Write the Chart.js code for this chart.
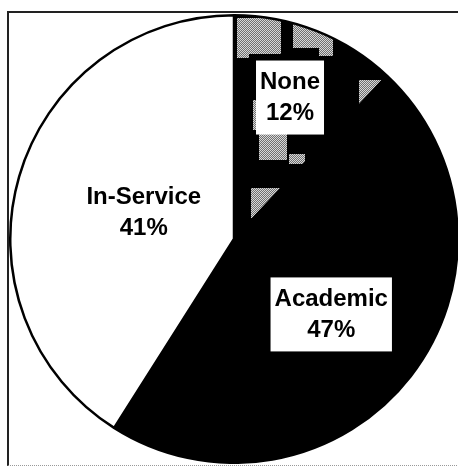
<!DOCTYPE html>
<html>
<head>
<meta charset="utf-8">
<script src="https://cdn.jsdelivr.net/npm/chart.js@4/dist/chart.umd.min.js"></script>
<style>
  html, body { margin: 0; padding: 0; background: #fff; }
  body { width: 458px; height: 467px; position: relative; overflow: hidden; }
  .frame {
    position: absolute; left: 7px; top: 11px; width: 470px; height: 452px;
    border-top: 2px solid #222; border-left: 2px solid #222;
    border-bottom: 1px dotted #999;
  }
  .pie-wrap { position: absolute; left: 9px; top: 14px; width: 450px; height: 450px; }
</style>
</head>
<body>
<div class="frame"></div>
<div class="pie-wrap"><canvas id="pie"></canvas></div>
<script>
const categories = ['None', 'Academic', 'In-Service'];
const shares = [12, 47, 41];
const percentLabels = ['12%', '47%', '41%'];

// how far out from the centre each label sits (fraction of the radius)
const labelRadius = [0.68, 0.55, 0.42];

// scanned-look dither for the "None" slice: black with blotchy grey patches
function makeNonePattern() {
  const size = 240;
  const tile = document.createElement('canvas');
  tile.width = size;
  tile.height = size;
  const ctx = tile.getContext('2d');
  ctx.fillStyle = '#000';
  ctx.fillRect(0, 0, size, size);
  const patches = [
    [228, 4, 12, 40], [0, 4, 32, 36], [44, 6, 40, 28], [110, 66, 34, 24],
    [4, 86, 14, 30], [10, 120, 28, 26], [2, 174, 30, 30], [58, 172, 12, 14],
    [40, 140, 16, 10], [70, 30, 14, 12], [120, 150, 30, 20], [180, 60, 24, 20],
  ];
  patches.forEach(([px, py, pw, ph]) => {
    for (let y = py; y < py + ph; y++) {
      for (let x = px; x < px + pw; x++) {
        ctx.fillStyle = (x + y) % 2 ? '#d8d8d8' : '#707070';
        ctx.fillRect(x % size, y % size, 1, 1);
      }
    }
  });
  return ctx.createPattern(tile, 'repeat');
}

const sliceLabels = {
  id: 'sliceLabels',
  afterDatasetsDraw(chart) {
    const ctx = chart.ctx;
    const meta = chart.getDatasetMeta(0);
    ctx.save();
    ctx.font = 'bold 24px Arial, "Liberation Sans", sans-serif';
    ctx.textAlign = 'center';
    ctx.textBaseline = 'middle';
    meta.data.forEach((arc, i) => {
      const p = arc.getProps(['x', 'y', 'startAngle', 'endAngle', 'outerRadius'], true);
      const mid = (p.startAngle + p.endAngle) / 2;
      const r = p.outerRadius * labelRadius[i];
      const cx = p.x + Math.cos(mid) * r;
      const cy = p.y + Math.sin(mid) * r;
      const lines = [categories[i], percentLabels[i]];
      const w = Math.max(...lines.map((t) => ctx.measureText(t).width)) + 8;
      const h = 74;
      ctx.fillStyle = '#fff';
      ctx.fillRect(cx - w / 2, cy - h / 2, w, h);
      ctx.fillStyle = '#000';
      ctx.fillText(lines[0], cx, cy - 15);
      ctx.fillText(lines[1], cx, cy + 16);
    });
    ctx.restore();
  },
};

new Chart(document.getElementById('pie'), {
  type: 'pie',
  data: {
    labels: categories,
    datasets: [
      {
        data: shares,
        backgroundColor: [makeNonePattern(), '#000', '#fff'],
        borderColor: '#000',
        borderWidth: 2.5,
      },
    ],
  },
  options: {
    responsive: true,
    maintainAspectRatio: false,
    animation: false,
    layout: { padding: 0 },
    plugins: {
      legend: { display: false },
      tooltip: { enabled: false },
    },
  },
  plugins: [sliceLabels],
});
</script>
</body>
</html>
